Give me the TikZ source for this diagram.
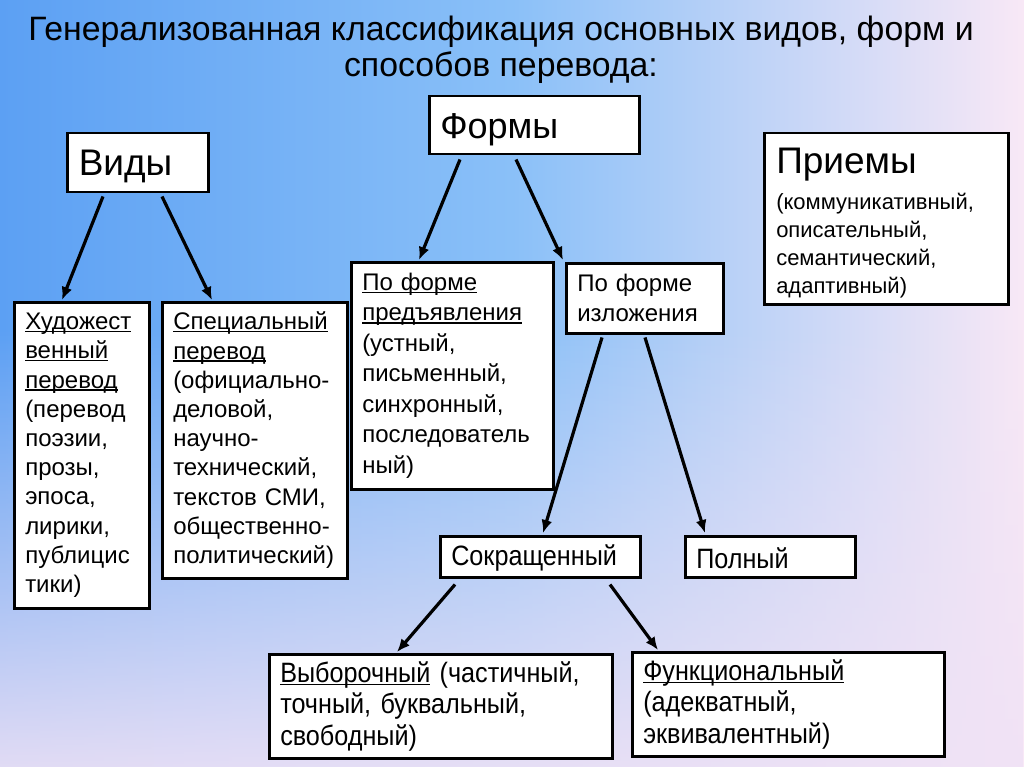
\documentclass[tikz,border=0pt]{standalone}
\usepackage{fontspec}
\setmainfont{Liberation Sans}
\newfontfamily\narrowfont[FakeStretch=0.9]{Liberation Sans}
\usetikzlibrary{arrows.meta,fadings}
\definecolor{bgA}{RGB}{92,160,243}
\definecolor{bgB}{RGB}{138,192,248}
\definecolor{bgC}{RGB}{248,232,246}
\definecolor{bgD}{RGB}{240,226,245}
\newcommand\ulx[1]{\leavevmode\setbox0\hbox{#1}\rlap{\rule[-2.6pt]{\wd0}{1.3pt}}\box0\relax}
\begin{document}
\begin{tikzpicture}[x=1pt,y=-1pt,
  box/.style={draw=black,line width=2.5pt,fill=white,anchor=north west,
    align=left,inner xsep=11pt,inner ysep=0pt,
    font=\fontsize{24}{29.2}\selectfont},
  arr/.style={line width=3.2pt,-{Latex[length=13pt,width=11pt]}},
  ttl/.style={align=center,font=\fontsize{33.8}{36}\selectfont}]
\useasboundingbox (0,0) rectangle (1024,767);
\shade[left color=bgA,right color=bgC,middle color=bgB] (0,0) rectangle (1024,767);
\fill[bgD,path fading=north,fill opacity=0.9] (0,330) rectangle (1024,767);
% title
\node[ttl] (title) at (501,50) {Генерализованная классификация основных видов, форм и\\способов перевода:};
% boxes
\node[box,minimum width=141pt,minimum height=59pt,text width=118pt,font=\fontsize{37}{40}\selectfont] (vidy) at (66,132) {\rule{0pt}{33pt}Виды};
\node[box,minimum width=210pt,minimum height=58pt,text width=188pt,font=\fontsize{36}{40}\selectfont] (formy) at (428,95) {\rule{0pt}{34pt}Формы};
\node[box,minimum width=244pt,minimum height=171pt,text width=220pt,font=\fontsize{22}{28}\selectfont] (priemy) at (763,132)
 {{\fontsize{37}{33}\selectfont\rule{0pt}{35pt}Приемы}\\[8pt](коммуникативный,\\описательный,\\семантический,\\адаптивный)};
\node[box,minimum width=135pt,minimum height=306pt,text width=113pt] (hud) at (13,301)
 {\ulx{Художест}\\\ulx{венный}\\\ulx{перевод}\\(перевод\\поэзии,\\прозы,\\эпоса,\\лирики,\\публицис\\тики)};
\node[box,minimum width=185pt,minimum height=276pt,text width=163pt] (spec) at (161,301)
 {\ulx{Специальный}\\\ulx{перевод}\\(официально-\\деловой,\\научно-\\технический,\\текстов СМИ,\\общественно-\\политический)};
\node[box,minimum width=201pt,minimum height=227pt,text width=180pt,font=\fontsize{24}{30.5}\selectfont] (pred) at (350,261)
 {\ulx{По форме}\\\ulx{предъявления}\\(устный,\\письменный,\\синхронный,\\последователь\\ный)};
\node[box,minimum width=157pt,minimum height=70pt,text width=135pt,font=\fontsize{24}{30}\selectfont] (izl) at (565,262)
 {По форме\\изложения};
\node[box,minimum width=200pt,minimum height=41pt,text width=178pt,font=\narrowfont\fontsize{28}{30}\selectfont] (sokr) at (439,535) {\rule{0pt}{24pt}Сокращенный};
\node[box,minimum width=170pt,minimum height=41pt,text width=148pt,font=\narrowfont\fontsize{28}{30}\selectfont] (poln) at (684,535) {\rule{0pt}{24pt}Полный};
\node[box,minimum width=343pt,minimum height=104pt,text width=321pt,font=\narrowfont\fontsize{28}{31.5}\selectfont] (vyb) at (268,653)
 {\ulx{Выборочный} (частичный,\\точный, буквальный,\\свободный)};
\node[box,minimum width=312pt,minimum height=104pt,text width=290pt,font=\narrowfont\fontsize{28}{31.5}\selectfont] (funk) at (631,651)
 {\ulx{Функциональный}\\(адекватный,\\эквивалентный)};
% arrows
\draw[arr] ([shift={(37,3)}]vidy.south west) -- ([shift={(49,-1)}]hud.north west);
\draw[arr] ([shift={(96,3)}]vidy.south west) -- ([shift={(51,-1)}]spec.north west);
\draw[arr] ([shift={(32,4)}]formy.south west) -- ([shift={(69,-1)}]pred.north west);
\draw[arr] ([shift={(88,4)}]formy.south west) -- ([shift={(-2,-2)}]izl.north west);
\draw[arr] ([shift={(37,3)}]izl.south west) -- ([shift={(104,-2)}]sokr.north west);
\draw[arr] ([shift={(80,3)}]izl.south west) -- ([shift={(21,-2)}]poln.north west);
\draw[arr] ([shift={(16,6)}]sokr.south west) -- ([shift={(129,-1)}]vyb.north west);
\draw[arr] ([shift={(171,6)}]sokr.south west) -- ([shift={(27,-1)}]funk.north west);
\end{tikzpicture}
\end{document}
